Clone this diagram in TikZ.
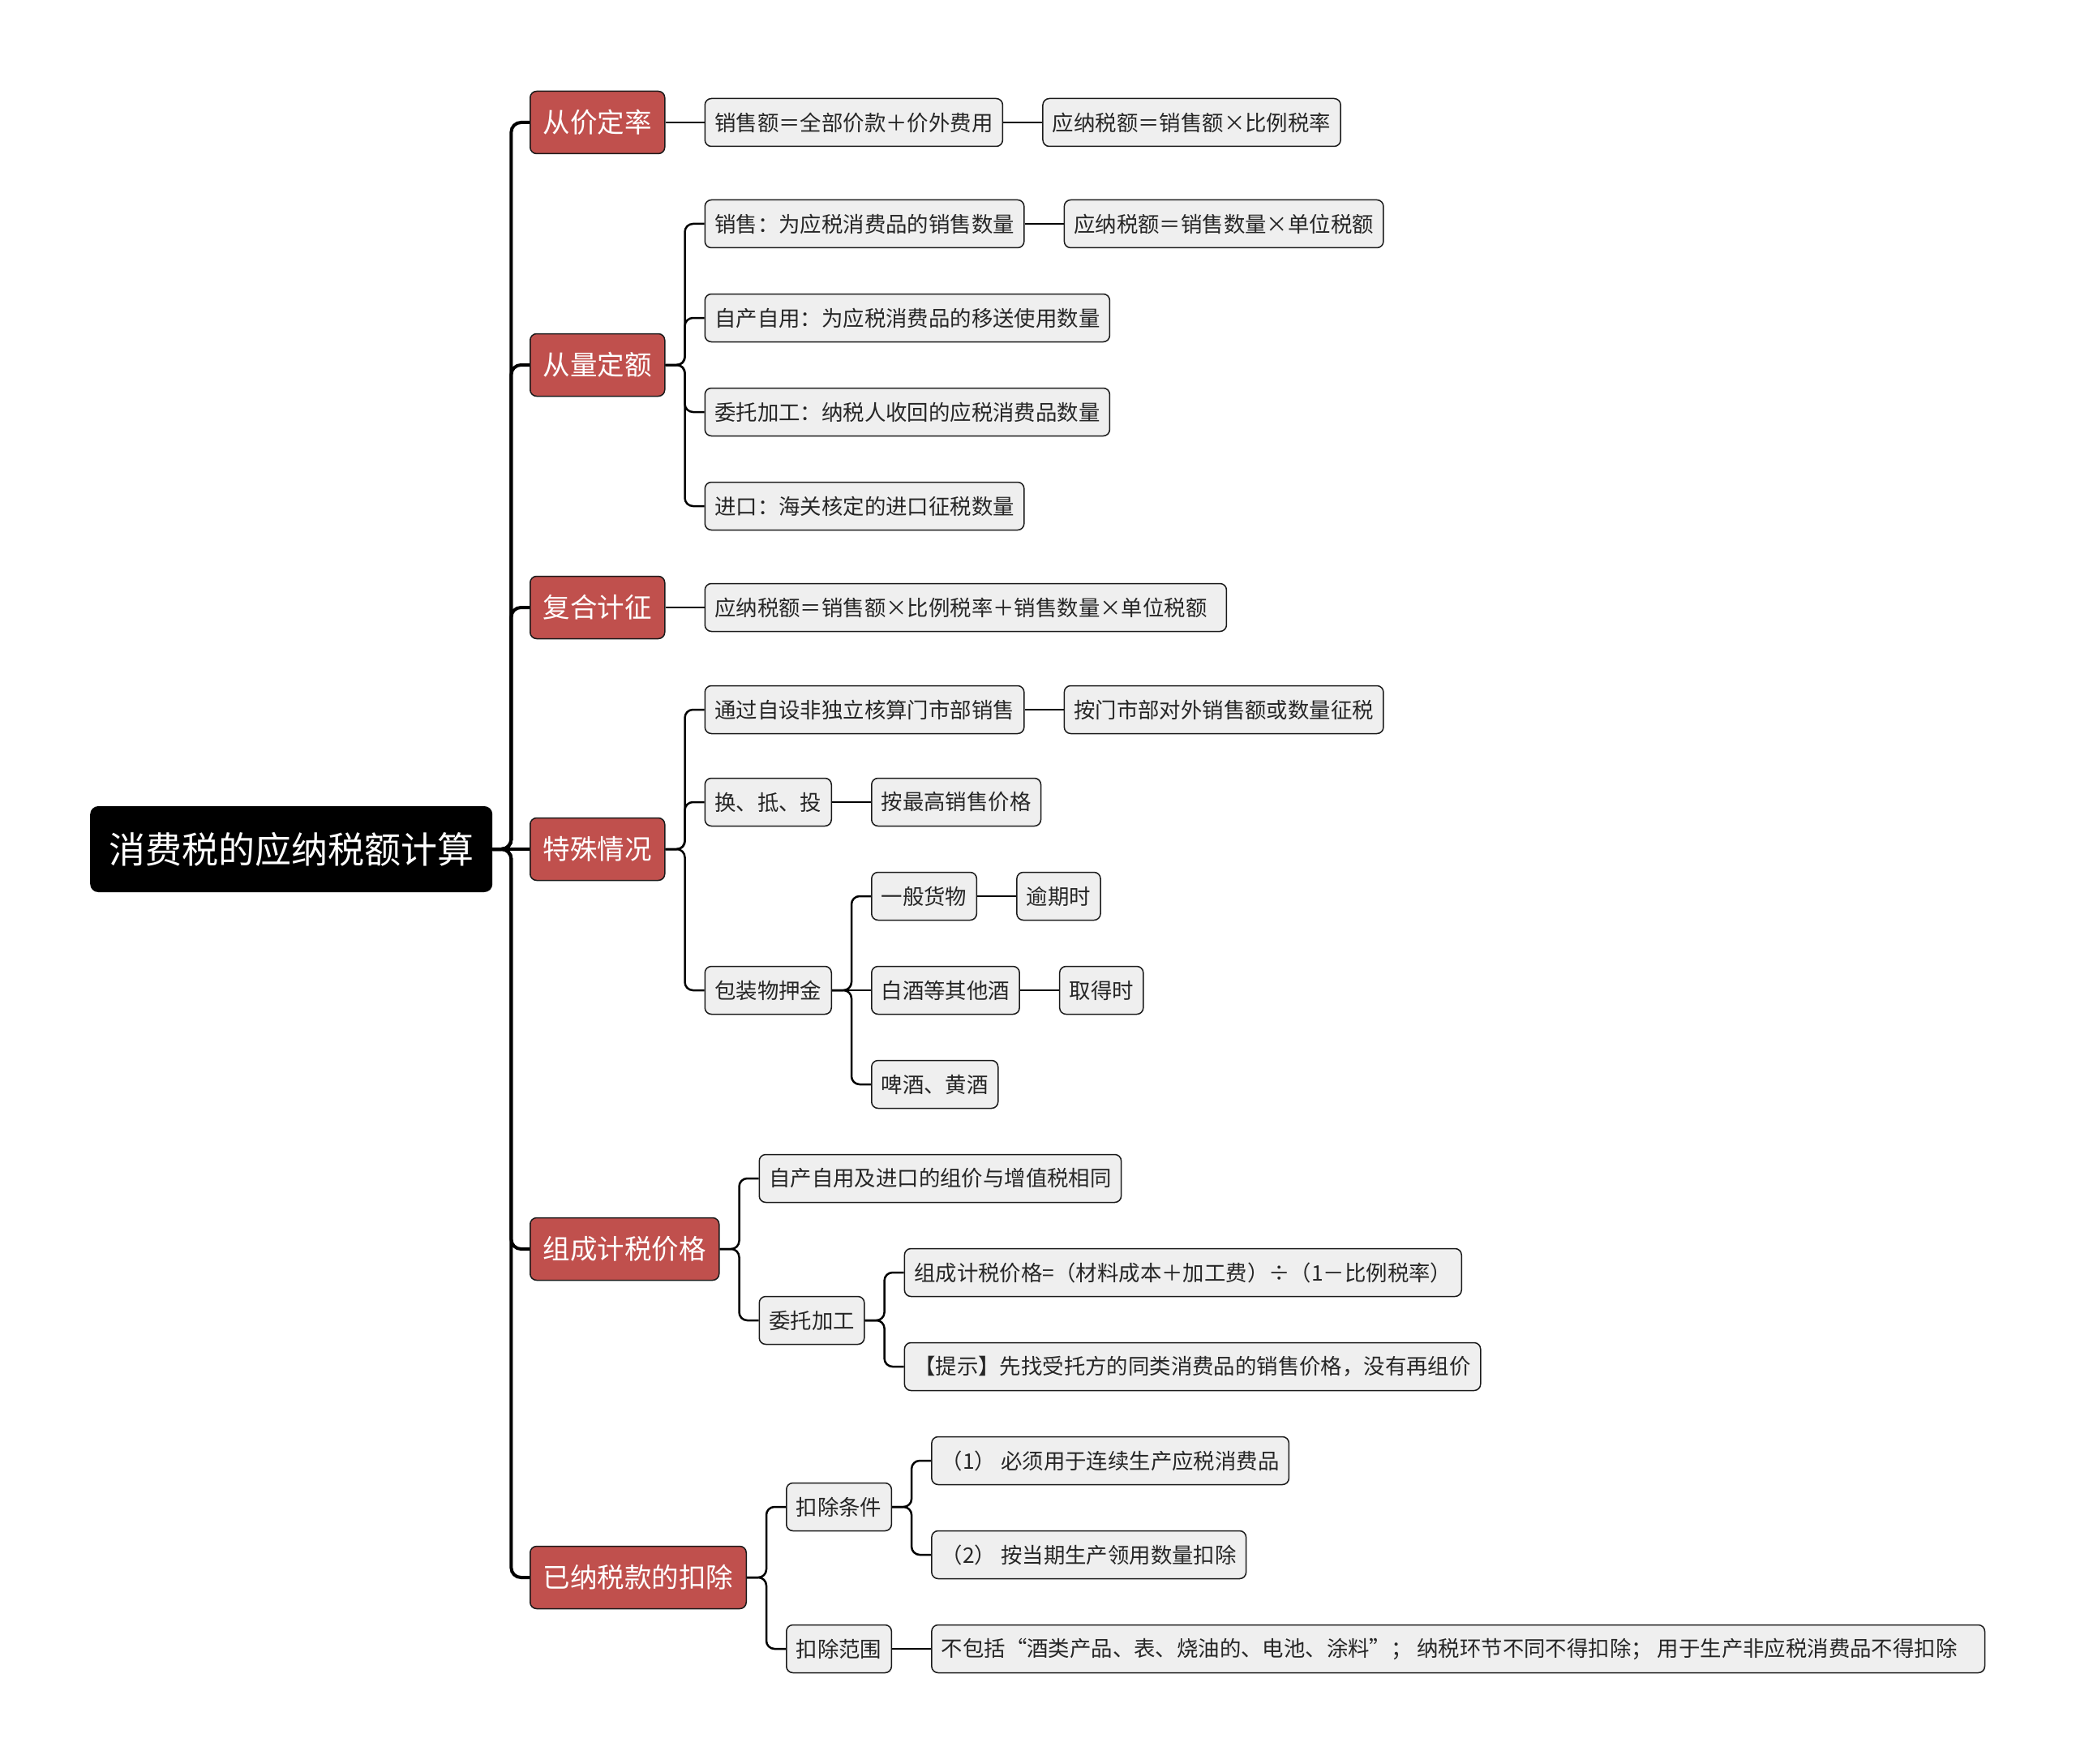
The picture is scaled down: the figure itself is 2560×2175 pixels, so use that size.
\documentclass[tikz,border=0pt]{standalone}
\usepackage{fontspec}
\setmainfont{Noto Sans CJK SC}
\usepackage{tikz}
\usetikzlibrary{calc}
\definecolor{TopicRed}{HTML}{C0504D}
\definecolor{LeafGray}{HTML}{EFEFEF}
\definecolor{EdgeBlack}{HTML}{1A1A1A}

\tikzset{
  rootbox/.style={fill=black, text=white, rounded corners=10pt, minimum height=106pt,
    inner xsep=23pt, anchor=west, font=\fontsize{45}{54}\selectfont},
  topic/.style={draw=EdgeBlack, line width=1.5pt, fill=TopicRed, text=white, rounded corners=8pt,
    minimum height=77pt, inner xsep=16pt, anchor=west, font=\fontsize{33.5}{40}\selectfont},
  leaf/.style={draw=EdgeBlack, line width=1.5pt, fill=LeafGray, text=black!85, rounded corners=8pt,
    minimum height=59pt, inner xsep=12pt, anchor=west, font=\fontsize{26.4}{31}\selectfont},
  kid/.style={leaf, xshift=48pt},
  trunk/.style={line width=4pt, rounded corners=12pt},
  link/.style={line width=2.5pt, rounded corners=10pt},
}

\begin{document}
\begin{tikzpicture}[x=1pt, y=-1pt]
\useasboundingbox (0,0) rectangle (2560,2175);

  % root
\node[rootbox] (root) at (111,1047) {消费税的应纳税额计算};

  % 从价定率
\node[topic] (cjdl) at (653,151) {从价定率};
\node[kid] (xse) at (cjdl.east) {销售额＝全部价款＋价外费用};
\node[kid] (ynse1) at (xse.east) {应纳税额＝销售额×比例税率};

  % 从量定额
\node[topic] (clde) at (653,450) {从量定额};
\node[kid] (xs) at (clde.east |- 0,276) {销售：为应税消费品的销售数量};
\node[kid] (ynse2) at (xs.east) {应纳税额＝销售数量×单位税额};
\node[kid] (zczy) at (clde.east |- 0,392) {自产自用：为应税消费品的移送使用数量};
\node[kid] (wtjg) at (clde.east |- 0,508) {委托加工：纳税人收回的应税消费品数量};
\node[kid] (jk) at (clde.east |- 0,624) {进口：海关核定的进口征税数量};

  % 复合计征
\node[topic] (fhjz) at (653,749) {复合计征};
\node[kid] (ynse3) at (fhjz.east) {应纳税额＝销售额×比例税率＋销售数量×单位税额\kern12pt};

  % 特殊情况
\node[topic] (tsqk) at (653,1047) {特殊情况};
\node[kid] (ms) at (tsqk.east |- 0,875) {通过自设非独立核算门市部销售};
\node[kid] (msz) at (ms.east) {按门市部对外销售额或数量征税};
\node[kid] (hdt) at (tsqk.east |- 0,989) {换、抵、投};
\node[kid] (zgjg) at (hdt.east) {按最高销售价格};
\node[kid] (bzw) at (tsqk.east |- 0,1221) {包装物押金};
\node[kid] (ybhw) at (bzw.east |- 0,1105) {一般货物};
\node[kid] (yqs) at (ybhw.east) {逾期时};
\node[kid] (bj) at (bzw.east) {白酒等其他酒};
\node[kid] (qds) at (bj.east) {取得时};
\node[kid] (pj) at (bzw.east |- 0,1337) {啤酒、黄酒};

  % 组成计税价格
\node[topic] (zcjs) at (653,1540) {组成计税价格};
\node[kid] (zjxt) at (zcjs.east |- 0,1453) {自产自用及进口的组价与增值税相同};
\node[kid] (wt) at (zcjs.east |- 0,1628) {委托加工};
\node[kid] (gs) at (wt.east |- 0,1569) {组成计税价格=（材料成本＋加工费）÷（1－比例税率）};
\node[kid] (ts) at (wt.east |- 0,1685) {【提示】先找受托方的同类消费品的销售价格，没有再组价};

  % 已纳税款的扣除
\node[topic] (kc) at (653,1945) {已纳税款的扣除};
\node[kid] (kctj) at (kc.east |- 0,1858) {扣除条件};
\node[kid] (tj1) at (kctj.east |- 0,1801) {（1） 必须用于连续生产应税消费品};
\node[kid] (tj2) at (kctj.east |- 0,1917) {（2） 按当期生产领用数量扣除};
\node[kid] (kcfw) at (kc.east |- 0,2033) {扣除范围};
\node[kid] (fw) at (kcfw.east) {不包括“酒类产品、表、烧油的、电池、涂料”； 纳税环节不同不得扣除； 用于生产非应税消费品不得扣除\kern22pt};

  % branches
\foreach \t in {cjdl,clde,fhjz,zcjs,kc} \draw[trunk] (root.east) -- ++(23,0) |- (\t.west);
\draw[trunk] (root.east) -- (tsqk.west);

\draw[link] (cjdl.east) -- (xse.west);
\draw[link] (xse.east) -- (ynse1.west);
\foreach \c in {xs,zczy,wtjg,jk} \draw[link] (clde.east) -- ++(24,0) |- (\c.west);
\draw[link] (xs.east) -- (ynse2.west);
\draw[link] (fhjz.east) -- (ynse3.west);
\foreach \c in {ms,hdt,bzw} \draw[link] (tsqk.east) -- ++(24,0) |- (\c.west);
\draw[link] (ms.east) -- (msz.west);
\draw[link] (hdt.east) -- (zgjg.west);
\foreach \c in {ybhw,pj} \draw[link] (bzw.east) -- ++(24,0) |- (\c.west);
\draw[link] (bzw.east) -- (bj.west);
\draw[link] (ybhw.east) -- (yqs.west);
\draw[link] (bj.east) -- (qds.west);
\foreach \c in {zjxt,wt} \draw[link] (zcjs.east) -- ++(24,0) |- (\c.west);
\foreach \c in {gs,ts} \draw[link] (wt.east) -- ++(24,0) |- (\c.west);
\foreach \c in {kctj,kcfw} \draw[link] (kc.east) -- ++(24,0) |- (\c.west);
\foreach \c in {tj1,tj2} \draw[link] (kctj.east) -- ++(24,0) |- (\c.west);
\draw[link] (kcfw.east) -- (fw.west);

\end{tikzpicture}
\end{document}
